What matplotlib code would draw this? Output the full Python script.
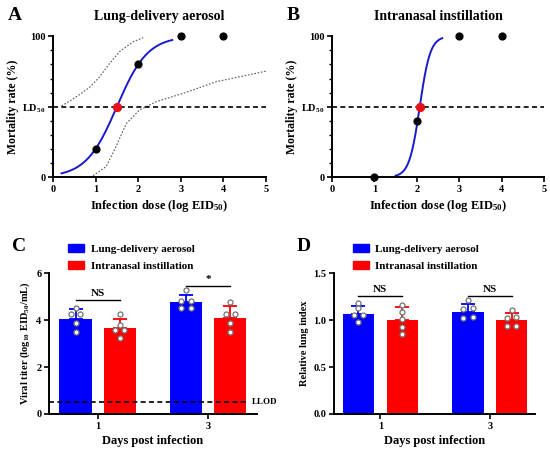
import numpy as np
import matplotlib
matplotlib.use("Agg")
import matplotlib.pyplot as plt
from matplotlib.patches import Patch

plt.rcParams['font.family'] = ['Liberation Serif', 'DejaVu Serif']
plt.rcParams['font.weight'] = 'bold'
plt.rcParams['axes.titleweight'] = 'bold'
plt.rcParams['axes.labelweight'] = 'bold'
plt.rcParams['mathtext.fontset'] = 'custom'
plt.rcParams['mathtext.rm'] = 'Liberation Serif:bold'
plt.rcParams['mathtext.it'] = 'Liberation Serif:bold'
plt.rcParams['mathtext.default'] = 'rm'

# panel A / B dose-response data
doses = [1, 2, 3, 4]
mort_aerosol = [20, 80, 100, 100]
mort_intranasal = [0, 40, 100, 100]
ld50_aerosol = 1.5
ld50_intranasal = 2.07
hill_aerosol = 1.2
hill_intranasal = 3.5
curve_range_aerosol = (0.2, 2.8)
curve_range_intranasal = (1.5, 2.6)
# 95% confidence band
ci_upper_x = [0.2, 0.55, 0.86, 1.09, 1.33, 1.56, 1.88, 2.12]
ci_upper_y = [50.5, 57, 63.7, 71, 80.7, 89, 96, 99]
ci_lower_x = [0.94, 1.25, 1.48, 1.72, 2.03, 2.42, 3.05, 3.83, 5.0]
ci_lower_y = [1, 7.5, 21.7, 38, 47.6, 53.5, 59.4, 67.7, 75.2]

# panel C / D
days = ['1', '3']
groups = ['Lung-delivery aerosol', 'Intranasal instillation']
titer_mean = {'aero': [4.05, 4.75], 'ina': [3.65, 4.10]}
titer_err = {'aero': [0.42, 0.30], 'ina': [0.38, 0.50]}
titer_pts = {
    'aero': [[4.53, 4.26, 4.26, 3.88, 3.50], [5.26, 4.80, 4.80, 4.51, 4.51]],
    'ina': [[4.25, 3.78, 3.59, 3.59, 3.24], [4.77, 4.26, 4.26, 3.86, 3.50]],
}
llod = 0.5
lung_mean = {'aero': [1.07, 1.09], 'ina': [1.00, 1.00]}
lung_err = {'aero': [0.085, 0.085], 'ina': [0.135, 0.075]}
lung_pts = {
    'aero': [[1.18, 1.13, 1.05, 1.05, 0.98], [1.21, 1.12, 1.13, 1.02, 1.03]],
    'ina': [[1.16, 1.09, 1.01, 0.93, 0.85], [1.11, 1.02, 1.03, 0.94, 0.94]],
}
sig_c = ['NS', '*']
sig_d = ['NS', 'NS']

# horizontal scatter pattern of the dots inside each bar (-1 left, 0 centre, 1 right)
spread_c = {'aero': [[0, -1, 1, 0, 0], [0, -1, 1, -1, 1]],
            'ina': [[0, 0, -1, 1, 0], [0, -1, 1, 0, 0]]}
spread_d = {'aero': [[0, 0, -1, 1, 0], [0, -1, 1, -1, 1]],
            'ina': [[0, 0, 0, 0, 0], [0, -1, 1, -1, 1]]}

BLUE = '#0000ff'
RED = '#ff0000'

fig = plt.figure(figsize=(5.5, 4.53), dpi=100)


def style(ax):
    for s in ['top', 'right']:
        ax.spines[s].set_visible(False)
    for s in ['left', 'bottom']:
        ax.spines[s].set_linewidth(1.4)
    ax.tick_params(width=1.2, length=3.5, labelsize=7.5, pad=2)
    ax.tick_params(which='minor', width=1.0, length=2)


def dose_panel(rect, title, letter, mort, ld50, hill, rng, ci=False):
    ax = fig.add_axes(rect)
    style(ax)
    ax.set_xlim(0, 5)
    ax.set_ylim(0, 100)
    ax.set_xticks(range(6))
    ax.set_yticks([0, 50, 100])
    ax.set_yticklabels(['0', 'LD$_{50}$', '100'])
    ax.set_yticks(np.arange(0, 101, 10), minor=True)
    if ci:
        ax.plot(ci_upper_x, ci_upper_y, ls=(0, (1.5, 1.5)), color='0.35', lw=0.8)
        ax.plot(ci_lower_x, ci_lower_y, ls=(0, (1.5, 1.5)), color='0.35', lw=0.8)
    xs = np.linspace(rng[0], rng[1], 200)
    ax.plot(xs, 100 / (1 + 10 ** ((ld50 - xs) * hill)), color='#1a1acc', lw=1.4)
    ax.axhline(50, color='black', ls=(0, (3, 2)), lw=1.2)
    ax.scatter(doses, mort, s=24, color='black', zorder=5, clip_on=False)
    ax.scatter([ld50], [50], s=32, color='#e8101a', zorder=6)
    ax.set_xlabel('Infection dose (log EID$_{50}$)', fontsize=9, labelpad=3)
    ax.set_ylabel('Mortality rate (%)', fontsize=8.5, labelpad=2)
    ax.set_title(title, fontsize=10, pad=12)
    fig.text(rect[0] - 0.082, rect[1] + rect[3] + 0.027, letter, fontsize=14,
             fontweight='bold', va='bottom')
    return ax


dose_panel([0.0964, 0.609, 0.387, 0.311], 'Lung-delivery aerosol', 'A',
           mort_aerosol, ld50_aerosol, hill_aerosol, curve_range_aerosol, ci=True)
dose_panel([0.6036, 0.609, 0.3855, 0.311], 'Intranasal instillation', 'B',
           mort_intranasal, ld50_intranasal, hill_intranasal, curve_range_intranasal)


def bar_panel(rect, letter, mean, err, pts, spread, ylim, yticks, ylabel, sig, sig_y,
              xlim, width, fmt):
    ax = fig.add_axes(rect)
    style(ax)
    x = np.arange(len(days))
    for key, off, col in [('aero', -0.2, BLUE), ('ina', 0.2, RED)]:
        ax.bar(x + off, mean[key], width=width, color=col, zorder=2)
        ax.errorbar(x + off, mean[key], yerr=[np.zeros(2), err[key]], fmt='none',
                    ecolor=col, elinewidth=1.3, capsize=5, capthick=1.3, zorder=3)
        for i in range(len(days)):
            dx = np.array(spread[key][i]) * 0.042
            ax.scatter(x[i] + off + dx, pts[key][i], s=13, facecolor='white',
                       edgecolor='0.45', linewidth=0.9, zorder=4)
    for i in range(len(days)):
        ax.plot([x[i] - 0.2, x[i] + 0.2], [sig_y[i], sig_y[i]], color='black', lw=1.0)
        ax.text(x[i], sig_y[i] + (ylim[1] * 0.015), sig[i], ha='center', va='bottom',
                fontsize=8)
    ax.set_xlim(*xlim)
    ax.set_ylim(*ylim)
    ax.set_yticks(yticks)
    ax.set_yticklabels([fmt.format(t) for t in yticks])
    ax.set_xticks(x)
    ax.set_xticklabels(days)
    ax.set_xlabel('Days post infection', fontsize=9, labelpad=3)
    ax.set_ylabel(ylabel, fontsize=7.5, labelpad=3)
    handles = [Patch(color=BLUE, label=groups[0]), Patch(color=RED, label=groups[1])]
    ax.legend(handles=handles, loc='lower left', bbox_to_anchor=(0.06, 0.97), frameon=False,
              fontsize=8, handlelength=1.45, handleheight=0.7, handletextpad=0.6,
              labelspacing=0.6, borderpad=0.1)
    fig.text(rect[0] - 0.068, rect[1] + rect[3] + 0.04, letter, fontsize=14,
             fontweight='bold', va='bottom')
    return ax


axc = bar_panel([0.089, 0.0861, 0.378, 0.311], 'C', titer_mean, titer_err, titer_pts,
                spread_c, (0, 6), [0, 2, 4, 6], 'Viral titer (log$_{10}$ EID$_{50}$/mL)',
                sig_c, [4.84, 5.45], (-0.441, 1.441), 0.294, '{:g}')
axc.plot([-0.441, 1.36], [llod, llod], color='black', ls=(0, (3, 2)), lw=1.2, zorder=5)
axc.text(1.40, llod, 'LLOD', fontsize=6.5, va='center', ha='left')

bar_panel([0.607, 0.0861, 0.3655, 0.311], 'D', lung_mean, lung_err, lung_pts, spread_d,
          (0, 1.5), [0.0, 0.5, 1.0, 1.5], 'Relative lung index', sig_d,
          [1.256, 1.256], (-0.425, 1.411), 0.285, '{:.1f}')

fig.savefig('out.png', dpi=100)
